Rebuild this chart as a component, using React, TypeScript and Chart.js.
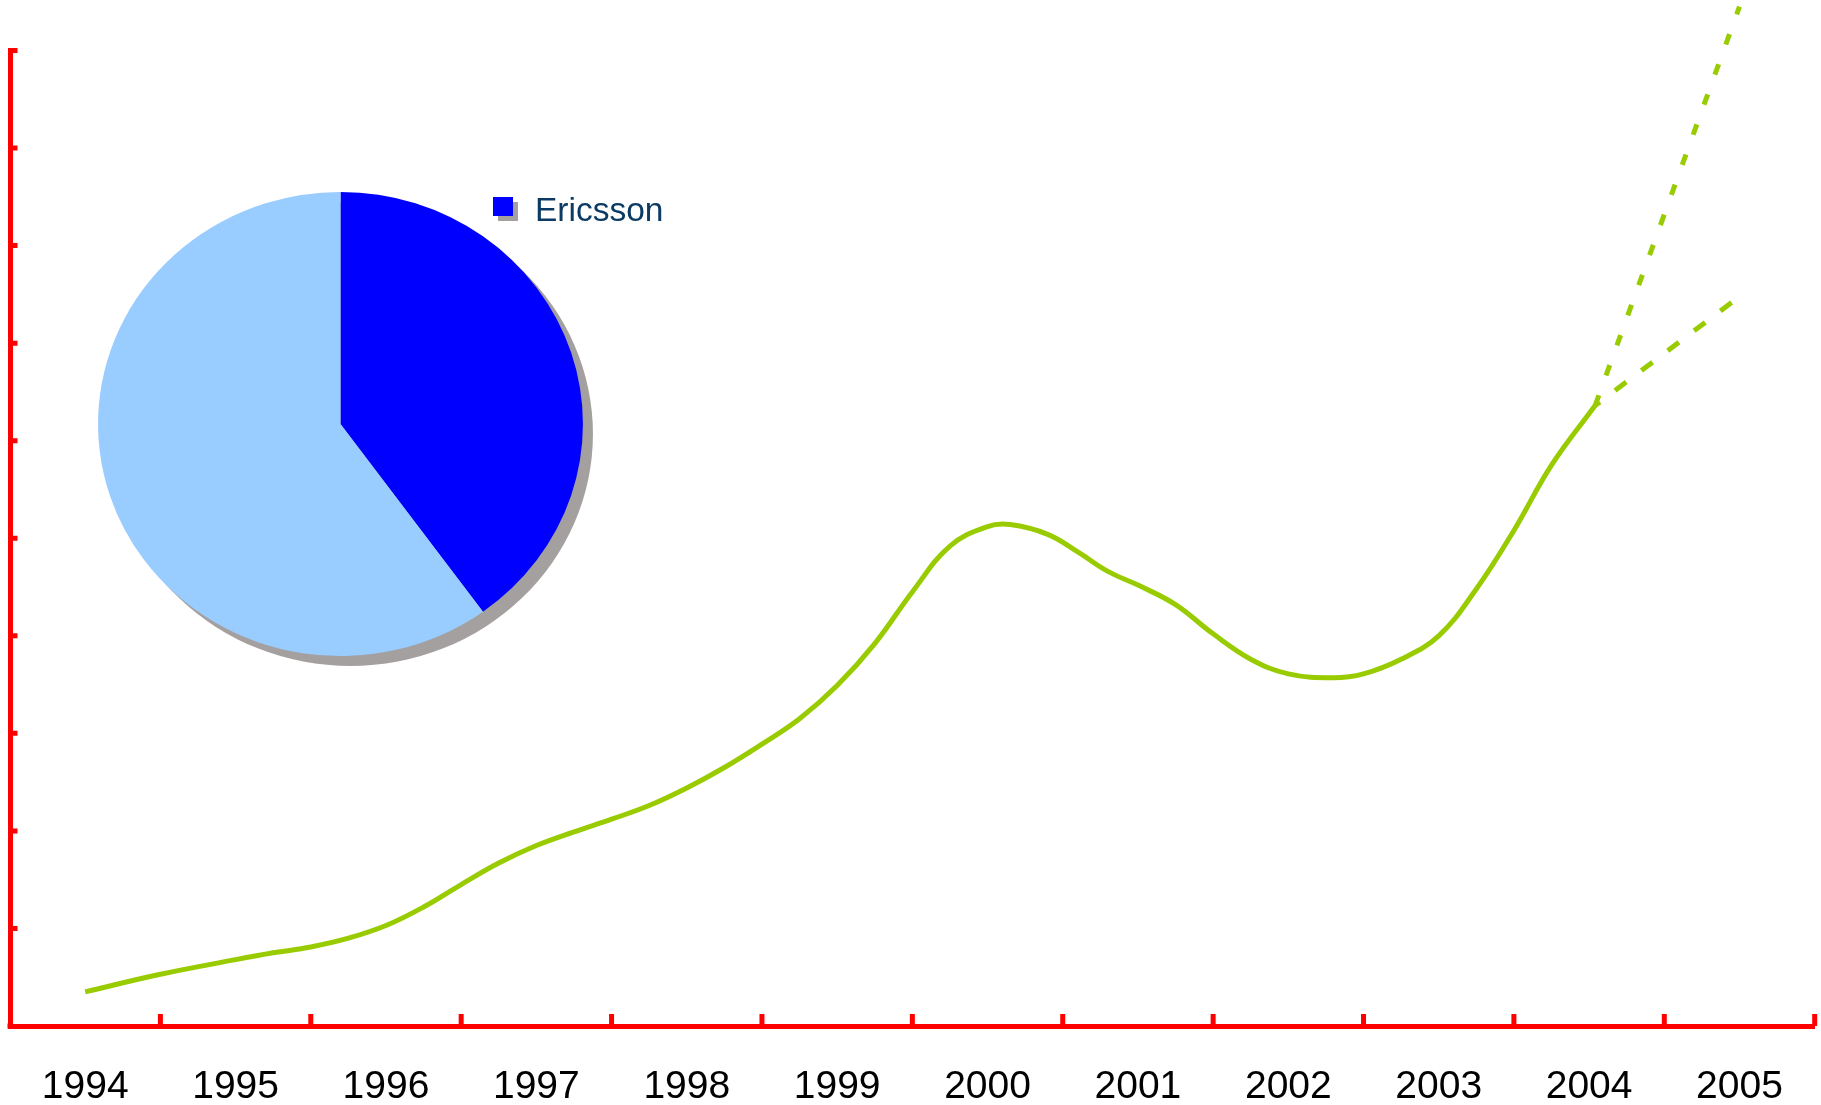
import React, { useEffect, useRef } from 'react';
import { Chart, registerables } from 'chart.js';

Chart.register(...registerables);

// ---------- data ----------
const years = [1994, 1995, 1996, 1997, 1998, 1999, 2000, 2001, 2002, 2003, 2004, 2005];
const yTickValues = [1, 2, 3, 4, 5, 6, 7, 8, 9, 10];

const lineYears = [
  1994.0, 1994.5, 1995.0, 1995.25, 1995.5, 1995.75, 1996.0, 1996.25, 1996.5, 1996.75,
  1997.0, 1997.25, 1997.5, 1997.75, 1998.0, 1998.25, 1998.5, 1998.75, 1999.0, 1999.25,
  1999.5, 1999.75, 2000.0, 2000.15, 2000.4, 2000.6, 2000.8, 2001.0, 2001.25, 2001.5,
  2001.75, 2002.0, 2002.3, 2002.5, 2002.75, 2003.0, 2003.25, 2003.5, 2003.75, 2004.04,
];
const lineValues = [
  0.35, 0.53, 0.68, 0.75, 0.81, 0.9, 1.03, 1.22, 1.45, 1.67,
  1.85, 1.99, 2.12, 2.26, 2.44, 2.65, 2.89, 3.15, 3.49, 3.92,
  4.45, 4.92, 5.12, 5.14, 5.04, 4.86, 4.66, 4.52, 4.32, 4.02,
  3.76, 3.61, 3.57, 3.61, 3.76, 4.0, 4.48, 5.08, 5.75, 6.36,
];
const upperYears = [2004.04, 2005.0];
const upperValues = [6.36, 10.45];
const lowerYears = [2004.04, 2004.95];
const lowerValues = [6.36, 7.42];

const pieLabels = ['Ericsson', 'Others'];
const pieValues = [40, 60];

// ---------- styles ----------
const W = 1821;
const H = 1105;
const AXIS_RED = '#FF0000';
const LINE_GREEN = '#99CC00';
const PIE_COLORS = ['#0000FF', '#99CCFF'];
const SHADOW = '#A5A0A0';
const FONT = "'Liberation Sans', Arial, Helvetica, sans-serif";

const toPoints = (xs: number[], ys: number[]) => xs.map((x, i) => ({ x, y: ys[i] }));

const inwardTicks = {
  id: 'inwardTicks',
  afterDraw(chart: any) {
    const { ctx, chartArea, scales } = chart;
    const xs = scales.x;
    const ys = scales.y;
    ctx.save();
    ctx.strokeStyle = AXIS_RED;
    ctx.lineWidth = 5;
    ctx.lineCap = 'butt';
    ctx.beginPath();
    years.forEach((yr) => {
      const px = xs.getPixelForValue(yr + 0.5);
      ctx.moveTo(px, chartArea.bottom);
      ctx.lineTo(px, chartArea.bottom - 12);
    });
    yTickValues.forEach((v) => {
      const py = ys.getPixelForValue(v);
      ctx.moveTo(chartArea.left, py);
      ctx.lineTo(chartArea.left + 7.5, py);
    });
    ctx.stroke();
    ctx.fillStyle = AXIS_RED;
    ctx.fillRect(chartArea.left - 2.5, chartArea.bottom - 2.5, 5, 5);
    ctx.restore();
  },
};

const ELLIPSE_K = 1.045;
const pieDecor = {
  id: 'pieDecor',
  beforeDatasetsDraw(chart: any) {
    const ctx = chart.ctx;
    const arc = chart.getDatasetMeta(0).data[0];
    if (!arc) return;
    const { x, y, outerRadius } = arc.getProps(['x', 'y', 'outerRadius'], true);
    ctx.save();
    ctx.translate(x, 0);
    ctx.scale(ELLIPSE_K, 1);
    ctx.translate(-x, 0);
    ctx.fillStyle = SHADOW;
    ctx.beginPath();
    ctx.arc(x + 10 / ELLIPSE_K, y + 10, outerRadius, 0, Math.PI * 2);
    ctx.fill();
  },
  afterDatasetsDraw(chart: any) {
    chart.ctx.restore();
  },
  afterDraw(chart: any) {
    const ctx = chart.ctx;
    const label = chart.data.labels[0];
    const color = chart.data.datasets[0].backgroundColor[0];
    ctx.save();
    ctx.fillStyle = SHADOW;
    ctx.fillRect(498, 202, 20, 19);
    ctx.fillStyle = color;
    ctx.fillRect(493, 197, 20, 19);
    ctx.fillStyle = '#0B3A64';
    ctx.font = `33.5px ${FONT}`;
    ctx.textBaseline = 'alphabetic';
    ctx.textAlign = 'left';
    ctx.fillText(label, 535, 221);
    ctx.restore();
  },
};

export default function App() {
  const lineRef = useRef<HTMLCanvasElement>(null);
  const pieRef = useRef<HTMLCanvasElement>(null);

  useEffect(() => {
    document.body.style.margin = '0';
    const lineChart = new Chart(lineRef.current!, {
      type: 'line',
      data: {
        datasets: [
          {
            data: toPoints(lineYears, lineValues),
            borderColor: LINE_GREEN,
            borderWidth: 5,
            pointRadius: 0,
            tension: 0.4,
            fill: false,
            clip: false,
          } as any,
          {
            data: toPoints(upperYears, upperValues),
            borderColor: LINE_GREEN,
            borderWidth: 5,
            borderDash: [11, 21],
            pointRadius: 0,
            fill: false,
            clip: false,
          } as any,
          {
            data: toPoints(lowerYears, lowerValues),
            borderColor: LINE_GREEN,
            borderWidth: 5,
            borderDash: [14, 19],
            borderDashOffset: 8,
            pointRadius: 0,
            fill: false,
            clip: false,
          } as any,
        ],
      },
      options: {
        responsive: false,
        animation: false,
        events: [],
        layout: { padding: { left: 10, right: 3, top: 50.5, bottom: 0 } },
        plugins: { legend: { display: false }, tooltip: { enabled: false } },
        scales: {
          x: {
            type: 'linear',
            min: 1993.5,
            max: 2005.5,
            grid: { display: false, drawTicks: false },
            border: { display: true, color: AXIS_RED, width: 5 },
            afterBuildTicks: (scale: any) => {
              scale.ticks = years.map((v) => ({ value: v }));
            },
            afterFit: (scale: any) => {
              scale.height = H - 1026;
            },
            ticks: {
              autoSkip: false,
              maxRotation: 0,
              minRotation: 0,
              padding: 38,
              color: '#000000',
              font: { family: FONT, size: 39 },
              callback: (v: any) => String(v),
            },
          },
          y: {
            type: 'linear',
            min: 0,
            max: 10,
            grid: { display: false, drawTicks: false },
            border: { display: true, color: AXIS_RED, width: 5 },
            ticks: { display: false },
            afterFit: (scale: any) => {
              scale.width = 0;
            },
          },
        },
      } as any,
      plugins: [inwardTicks],
    });

    const cx = 340.5;
    const cy = 424;
    const r = 232;
    const pieChart = new Chart(pieRef.current!, {
      type: 'pie',
      data: {
        labels: pieLabels,
        datasets: [
          {
            data: pieValues,
            backgroundColor: PIE_COLORS,
            borderWidth: 0,
            hoverOffset: 0,
            offset: 0,
            clip: false,
          } as any,
        ],
      },
      options: {
        responsive: false,
        animation: false,
        events: [],
        layout: { padding: { left: cx - r, right: W - (cx + r), top: cy - r, bottom: H - (cy + r) } },
        plugins: { legend: { display: false }, tooltip: { enabled: false } },
      } as any,
      plugins: [pieDecor],
    });

    return () => {
      lineChart.destroy();
      pieChart.destroy();
    };
  }, []);

  return (
    <div style={{ position: 'absolute', left: 0, top: 0, width: W, height: H, background: '#ffffff' }}>
      <canvas ref={lineRef} width={W} height={H} style={{ position: 'absolute', left: 0, top: 0 }} />
      <canvas
        ref={pieRef}
        width={W}
        height={H}
        style={{ position: 'absolute', left: 0, top: 0, pointerEvents: 'none' }}
      />
    </div>
  );
}
